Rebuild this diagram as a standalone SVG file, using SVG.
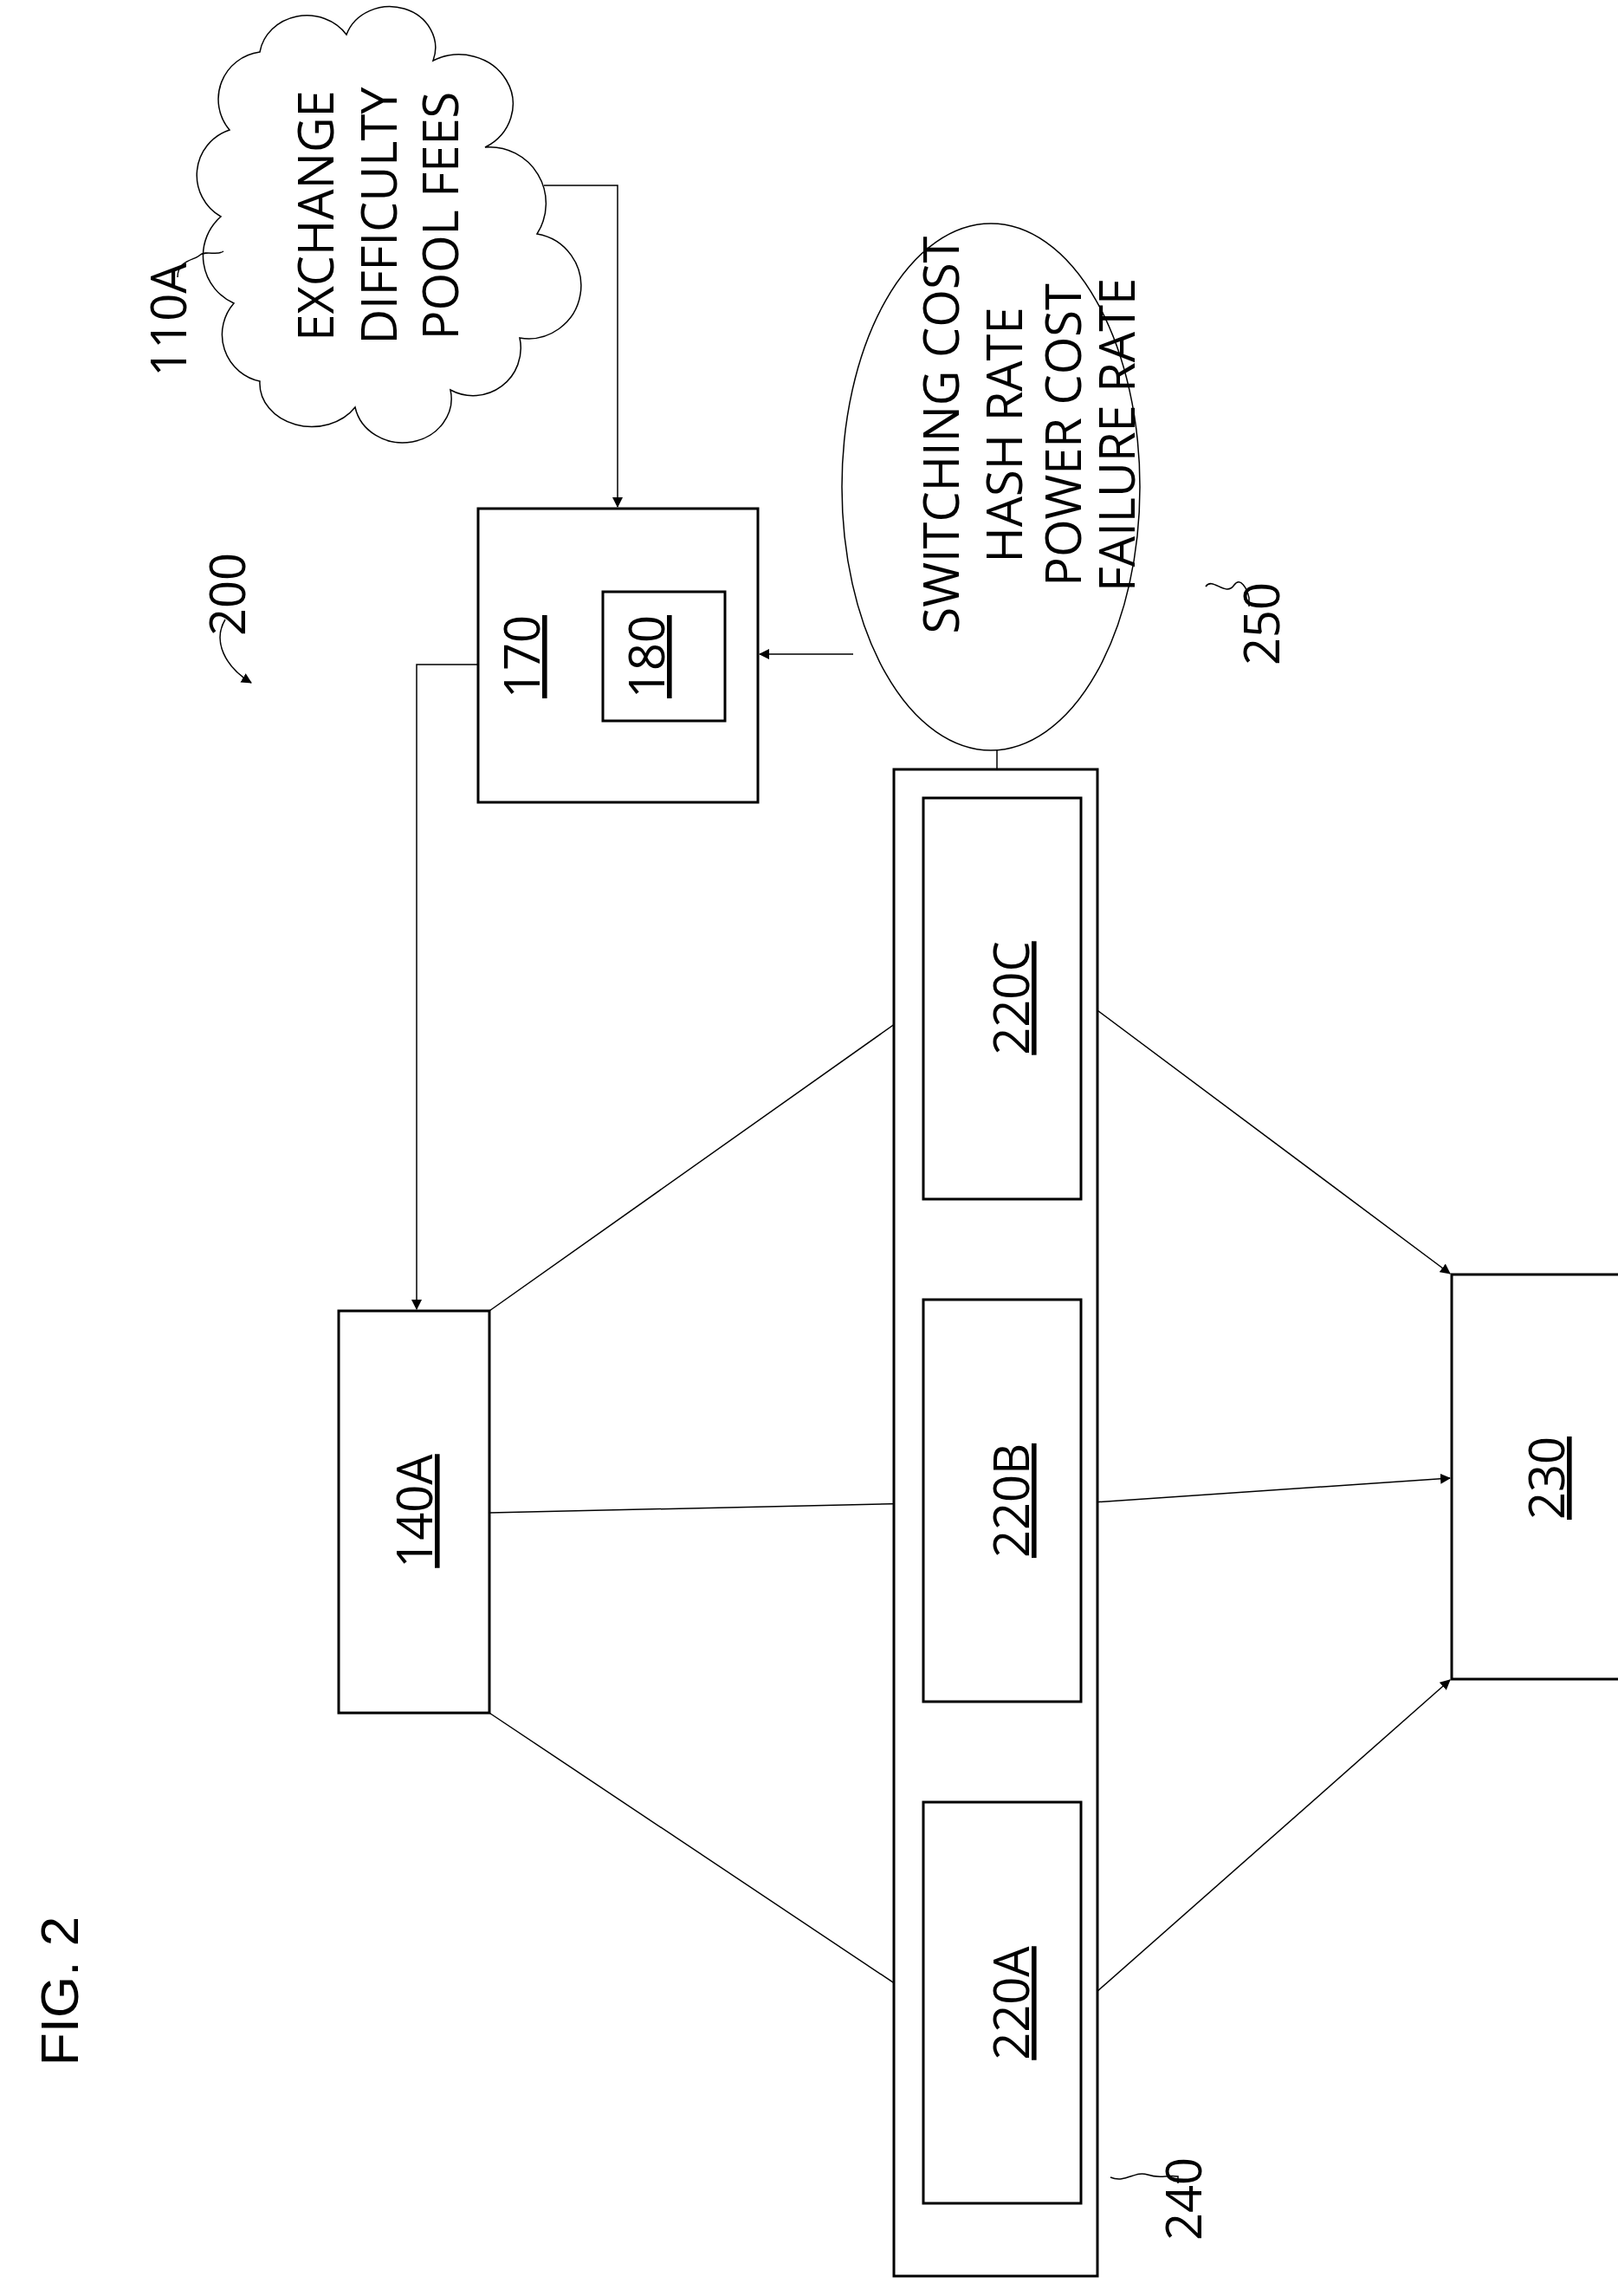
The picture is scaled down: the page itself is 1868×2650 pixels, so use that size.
<svg xmlns="http://www.w3.org/2000/svg" width="1868" height="2650" viewBox="0 0 1868 2650">
<style>
.box{fill:#fff;stroke:#000;stroke-width:3}
.ln{fill:none;stroke:#000;stroke-width:1.5}
.t{font-family:"Open Sans","Liberation Sans",sans-serif;font-size:56px;text-anchor:middle;fill:#000}
.u{text-decoration:underline}
</style>
<defs>
<marker id="ah" markerWidth="12" markerHeight="12" refX="11" refY="6" orient="auto" markerUnits="userSpaceOnUse" viewBox="0 0 12 12">
<path d="M0,0 L12,6 L0,12 Z" fill="#000"/>
</marker>
</defs>
<rect width="1868" height="2650" fill="#fff"/>
<g id="connectors">
<path class="ln" d="M628,214 H713 V585" marker-end="url(#ah)"/>
<path class="ln" d="M985,755 H877" marker-end="url(#ah)"/>
<path class="ln" d="M1151,866 V888"/>
<path class="ln" d="M552,767 H481 V1511" marker-end="url(#ah)"/>
<path class="ln" d="M565,1513 L1064,1160" marker-end="url(#ah)"/>
<path class="ln" d="M565,1746 L1064,1735" marker-end="url(#ah)"/>
<path class="ln" d="M565,1977 L1064,2310" marker-end="url(#ah)"/>
<path class="ln" d="M1248,1152 L1674,1470" marker-end="url(#ah)"/>
<path class="ln" d="M1248,1735 L1674,1706" marker-end="url(#ah)"/>
<path class="ln" d="M1248,2315 L1674,1939" marker-end="url(#ah)"/>
</g>
<g id="n110A">
<path class="ln" stroke-width="2" d="M300,60 A55,50 0 0 1 400,40 A50,45 0 0 1 500,70 A60,55 0 0 1 560,170 A65,65 0 0 1 620,270 A60,60 0 0 1 600,390 A55,55 0 0 1 520,450 A55,50 0 0 1 410,470 A60,50 0 0 1 300,440 A55,55 0 0 1 270,350 A60,60 0 0 1 255,250 A55,55 0 0 1 265,150 A55,55 0 0 1 300,60 Z"/>
<text class="t" transform="translate(385,249) rotate(-90)">EXCHANGE</text>
<text class="t" transform="translate(458,249) rotate(-90)">DIFFICULTY</text>
<text class="t" transform="translate(529,249) rotate(-90)">POOL FEES</text>
<text class="t" transform="translate(215,369) rotate(-90)">110A</text>
<path class="ln" d="M205,320 C205,300 225,300 230,295 C238,288 250,296 258,290"/>
</g>
<g id="n200">
<text class="t" transform="translate(283,686) rotate(-90)">200</text>
<path class="ln" d="M260,715 C245,740 260,770 290,788" marker-end="url(#ah)"/>
</g>
<g id="n170">
<rect class="box" x="552" y="587" width="323" height="339"/>
<text class="t u" transform="translate(623,758) rotate(-90)">170</text>
<rect class="box" x="696" y="683" width="141" height="149"/>
<text class="t u" transform="translate(767,758) rotate(-90)">180</text>
</g>
<g id="n250">
<ellipse class="ln" stroke-width="2" cx="1144" cy="562" rx="172" ry="304"/>
<text class="t" transform="translate(1107,502) rotate(-90)">SWITCHING COST</text>
<text class="t" transform="translate(1180,502) rotate(-90)">HASH RATE</text>
<text class="t" transform="translate(1248,502) rotate(-90)">POWER COST</text>
<text class="t" transform="translate(1310,502) rotate(-90)">FAILURE RATE</text>
<text class="t" transform="translate(1477,720) rotate(-90)">250</text>
<path class="ln" d="M1392,677 C1400,665 1415,690 1425,675 C1432,665 1440,680 1442,690 V700"/>
</g>
<g id="n140A">
<rect class="box" x="391" y="1513" width="174" height="464"/>
<text class="t u" transform="translate(499,1744) rotate(-90)">140A</text>
</g>
<g id="n240">
<rect class="box" x="1032" y="888" width="235" height="1739"/>
<text class="t" transform="translate(1387,2538) rotate(-90)">240</text>
<path class="ln" d="M1282,2513 C1300,2520 1310,2505 1325,2510 C1340,2515 1345,2510 1360,2512 V2520"/>
</g>
<g id="n220C">
<rect class="box" x="1066" y="921" width="182" height="463"/>
<text class="t u" transform="translate(1188,1152) rotate(-90)">220C</text>
</g>
<g id="n220B">
<rect class="box" x="1066" y="1500" width="182" height="464"/>
<text class="t u" transform="translate(1188,1732) rotate(-90)">220B</text>
</g>
<g id="n220A">
<rect class="box" x="1066" y="2080" width="182" height="463"/>
<text class="t u" transform="translate(1188,2312) rotate(-90)">220A</text>
</g>
<g id="n230">
<rect class="box" x="1676" y="1471" width="226" height="467"/>
<text class="t u" transform="translate(1806,1706) rotate(-90)">230</text>
</g>
<text class="t" style="font-family:'Liberation Sans',sans-serif;font-size:62px" transform="translate(90,2298) rotate(-90)">FIG. 2</text>
</svg>
